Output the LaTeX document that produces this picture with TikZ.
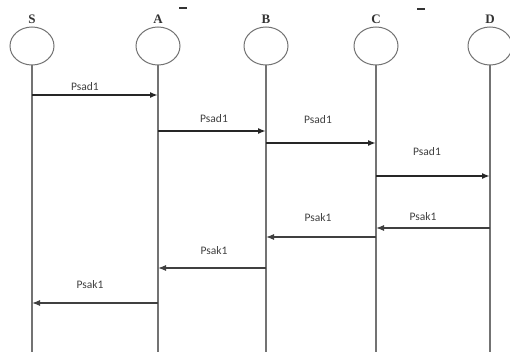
\documentclass[tikz,border=0pt]{standalone}
\usepackage{fontspec}
\setmainfont{Liberation Serif}
\newfontfamily\lblfont{Carlito}
\usetikzlibrary{arrows.meta,shapes.geometric}
\begin{document}
\begin{tikzpicture}[x=1pt,y=-1pt,
  obj/.style={draw=black!55,line width=1pt,ellipse,minimum width=44pt,minimum height=38pt,inner sep=0pt},
  objname/.style={font=\bfseries\fontsize{13}{14}\selectfont,text=black!80},
  life/.style={draw=black!55,line width=1.3pt},
  fwd/.style={draw=black!85,line width=1.6pt,-{Latex[length=8pt,width=6pt]}},
  back/.style={draw=black!75,line width=1.2pt,-{Latex[length=8pt,width=6pt]}},
  msg/.style={font=\lblfont\fontsize{11.5}{12}\selectfont,text=black!75},
  tick/.style={draw=black!80,line width=1.5pt}]
\useasboundingbox[fill=white] (0,0) rectangle (510,352);
% objects
\foreach \n/\x in {S/32,A/158,B/266,C/376,D/490}{
  \node[obj] (\n) at (\x,46) {};
  \node[objname] (\n lbl) at (\x,19) {\n};
  \coordinate (\n end) at (\x,352);
  \draw[life] (\n.south) -- (\n end);
}
% small marks at top
\coordinate (m1a) at (179,8); \coordinate (m1b) at (187,8);
\coordinate (m2a) at (417,9); \coordinate (m2b) at (425,9);
\draw[tick] (m1a) -- (m1b);
\draw[tick] (m2a) -- (m2b);
% message end points
\foreach \n/\x in {S/32,A/158,B/266,C/376,D/490}{
  \foreach \k/\y in {1/95,2/131,3/143,4/176,5/228,6/237,7/268,8/303}{
    \coordinate (\n\k) at (\x,\y);
  }
}
\draw[fwd] (S1) -- (A1);
\draw[fwd] (A2) -- (B2);
\draw[fwd] (B3) -- (C3);
\draw[fwd] (C4) -- (D4);
\draw[back] (D5) -- (C5);
\draw[back] (C6) -- (B6);
\draw[back] (B7) -- (A7);
\draw[back] (A8) -- (S8);
% labels
\node[msg] (l1) at (85,87) {Psad1};
\node[msg] (l2) at (214,119) {Psad1};
\node[msg] (l3) at (318,120) {Psad1};
\node[msg] (l4) at (427,152) {Psad1};
\node[msg] (l5) at (423,217) {Psak1};
\node[msg] (l6) at (318,218) {Psak1};
\node[msg] (l7) at (214,251) {Psak1};
\node[msg] (l8) at (90,285) {Psak1};
\end{tikzpicture}
\end{document}
